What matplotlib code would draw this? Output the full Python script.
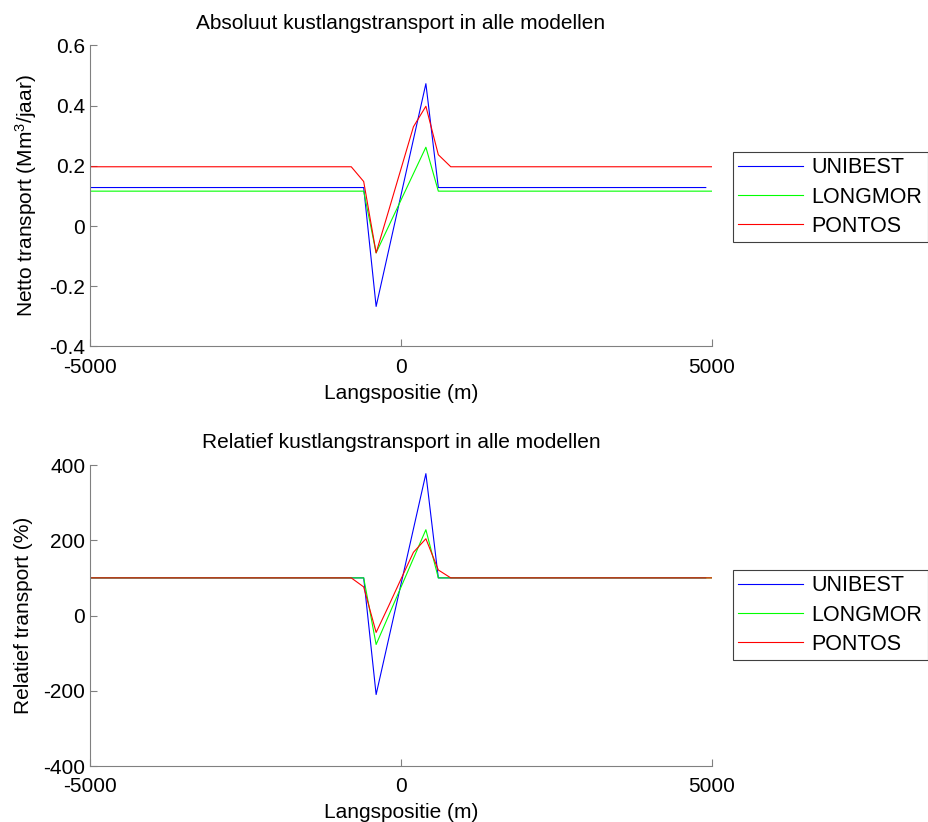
#!/usr/bin/env python3

import matplotlib
matplotlib.use('Agg')
import matplotlib.pyplot as plt

plt.rcParams['font.family'] = ['Liberation Sans', 'DejaVu Sans']
plt.rcParams['mathtext.default'] = 'regular'
plt.rcParams['axes.unicode_minus'] = False
plt.rcParams['font.size'] = 15

# langspositie (m) per model
x_unibest = [-5000, -600, -400, 400, 600, 4900]
x_longmor = [-5000, -600, -400, 400, 600, 5000]
x_pontos = [-5000, -800, -600, -400, -200, 0, 200, 400, 600, 800, 5000]

# netto transport (Mm3/jaar)
abs_unibest = [0.128, 0.128, -0.267, 0.473, 0.128, 0.128]
abs_longmor = [0.116, 0.116, -0.089, 0.262, 0.116, 0.116]
abs_pontos = [0.197, 0.197, 0.148, -0.089, 0.05, 0.19, 0.33, 0.398, 0.237, 0.197, 0.197]

# relatief transport (%)
rel_unibest = [100, 100, -210, 377, 100, 100]
rel_longmor = [100, 100, -77, 228, 100, 100]
rel_pontos = [100, 100, 76, -45, 25, 97, 168, 204, 121, 100, 100]

labels = ['UNIBEST', 'LONGMOR', 'PONTOS']
colors = ['#0000ff', '#00ff00', '#ff0000']

fig = plt.figure(figsize=(9.29, 8.22), dpi=100)
ax1 = fig.add_axes([0.0969, 0.5785, 0.6695, 0.3662])
ax2 = fig.add_axes([0.0969, 0.0681, 0.6695, 0.3662])


def style(ax):
  for s in ['top', 'right']:
    ax.spines[s].set_visible(False)
  for s in ['left', 'bottom']:
    ax.spines[s].set_color('#808080')
  ax.tick_params(direction='in', length=5, color='#808080', labelcolor='black')
  ax.tick_params(axis='x', pad=8)
  ax.set_xlim(-5000, 5000)
  ax.set_xticks([-5000, 0, 5000])
  ax.set_xlabel('Langspositie (m)', labelpad=5)


xs = [x_unibest, x_longmor, x_pontos]
for xx, yy, lab, c in zip(xs, [abs_unibest, abs_longmor, abs_pontos], labels, colors):
  ax1.plot(xx, yy, color=c, lw=0.8, label=lab)
style(ax1)
ax1.set_ylim(-0.4, 0.6)
ax1.set_yticks([-0.4, -0.2, 0, 0.2, 0.4, 0.6])
ax1.set_yticklabels(['-0.4', '-0.2', '0', '0.2', '0.4', '0.6'])
ax1.set_ylabel('Netto transport (Mm$^3$/jaar)', labelpad=7)
ax1.set_title('Absoluut kustlangstransport in alle modellen', fontsize=15, pad=12)

for xx, yy, lab, c in zip(xs, [rel_unibest, rel_longmor, rel_pontos], labels, colors):
  ax2.plot(xx, yy, color=c, lw=0.8, label=lab)
style(ax2)
ax2.set_ylim(-400, 400)
ax2.set_yticks([-400, -200, 0, 200, 400])
ax2.set_ylabel('Relatief transport (%)', labelpad=7)
ax2.set_title('Relatief kustlangstransport in alle modellen', fontsize=15, pad=12)

for ax, top in [(ax1, 152 / 822), (ax2, 570 / 822)]:
  leg = ax.legend(loc='upper left', bbox_to_anchor=(733 / 929, 1 - top),
                  bbox_transform=fig.transFigure, fancybox=False, framealpha=1,
                  edgecolor='#404040', borderpad=0.25, labelspacing=0.38,
                  handlelength=3.0, handletextpad=0.4, borderaxespad=0,
                  fontsize=15.5)
  leg.get_frame().set_linewidth(0.8)

plt.savefig('out.png', dpi=100)
